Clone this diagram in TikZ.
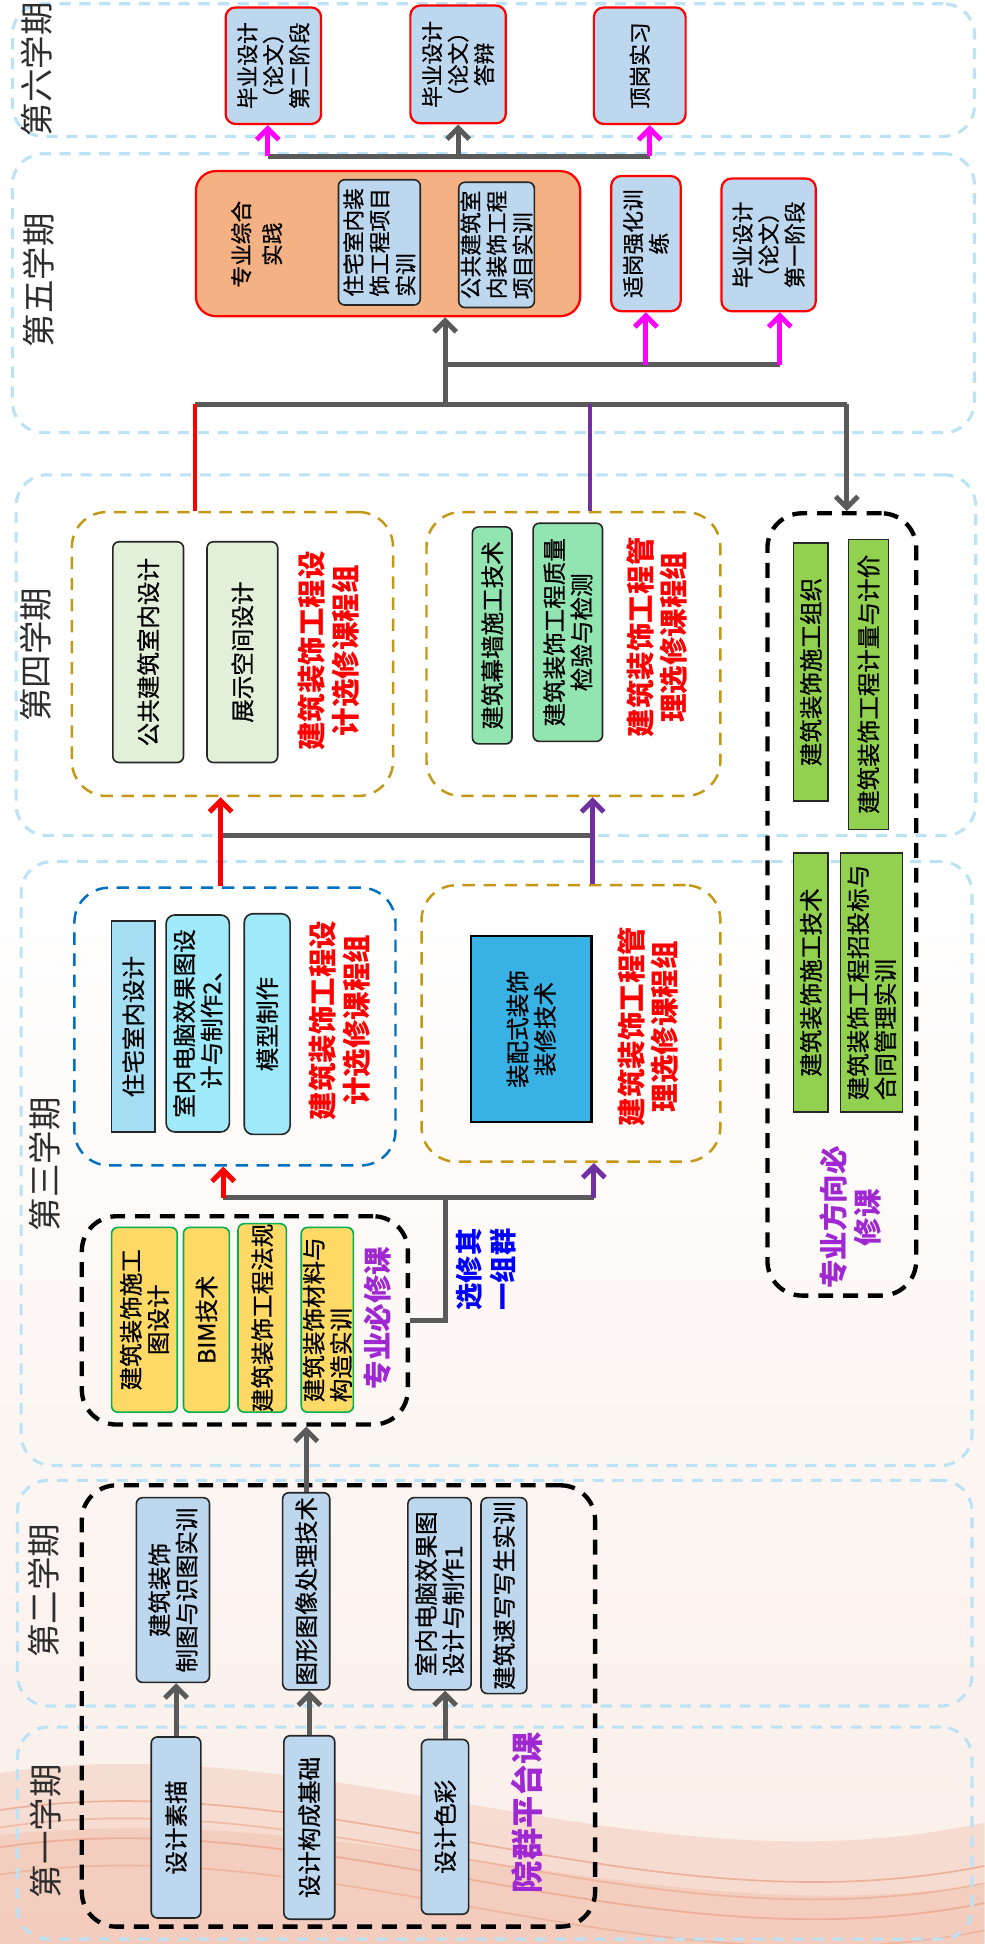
\documentclass[tikz,border=0pt]{standalone}
\usepackage{fontspec}
\setmainfont{Noto Sans CJK SC}
\newfontfamily\boxfont{Noto Sans CJK SC}[RawFeature={embolden=0.8}]
\usetikzlibrary{arrows.meta, calc}

\definecolor{bandblue}{RGB}{188,226,246}
\definecolor{boxblue}{RGB}{189,215,238}
\definecolor{orangefill}{RGB}{244,177,131}
\definecolor{lightgreen}{RGB}{226,240,217}
\definecolor{mintgreen}{RGB}{146,228,176}
\definecolor{grassgreen}{RGB}{146,208,80}
\definecolor{cyanfill}{RGB}{158,234,250}
\definecolor{cyangray}{RGB}{165,222,242}
\definecolor{deepsky}{RGB}{56,178,228}
\definecolor{yellowfill}{RGB}{255,217,102}
\definecolor{borderg}{RGB}{0,176,80}
\definecolor{gold}{RGB}{196,152,20}
\definecolor{dblue}{RGB}{0,112,192}
\definecolor{arrgray}{RGB}{90,90,90}
\definecolor{purp}{RGB}{112,48,160}
\definecolor{labpurp}{RGB}{160,40,210}
\definecolor{labblue}{RGB}{0,0,255}
\definecolor{pinkarr}{RGB}{255,0,255}
\definecolor{semtext}{RGB}{45,45,45}
\definecolor{bgpink}{RGB}{250,238,232}
\definecolor{swoosh}{RGB}{232,150,120}

\begin{document}
\begin{tikzpicture}[
  x=1pt, y=-1pt,
  band/.style={draw=bandblue, line width=2.5pt, dash pattern=on 9pt off 7pt, rounded corners=25pt},
  goldgrp/.style={draw=gold, line width=2pt, dash pattern=on 10pt off 7pt, rounded corners=28pt},
  bluegrp/.style={draw=dblue, line width=2pt, dash pattern=on 10pt off 7pt, rounded corners=28pt},
  blkgrp/.style={draw=black, line width=3.5pt, dash pattern=on 12pt off 8pt, rounded corners=28pt},
  crs/.style={rotate=90, draw=black!85, line width=1.3pt, rounded corners=5pt, align=center, inner sep=0pt, font=\boxfont\fontsize{19}{22}\selectfont},
  topcrs/.style={crs, draw=red, line width=1.8pt, fill=boxblue, rounded corners=8pt, font=\boxfont\fontsize{17.5}{21}\selectfont},
  semlab/.style={rotate=90, text=semtext, inner sep=0pt, font=\fontsize{27}{30}\selectfont},
  grplab/.style={rotate=90, text=red, align=center, inner sep=0pt, font=\bfseries\fontsize{23}{27}\selectfont},
  gline/.style={draw=arrgray, line width=4pt},
  garr/.style={gline, -{Straight Barb[length=9pt,width=18pt]}},
  marr/.style={draw=pinkarr, line width=4pt, -{Straight Barb[length=9pt,width=18pt]}},
  rarr/.style={draw=red, line width=4pt, -{Straight Barb[length=9pt,width=18pt]}},
  parr/.style={draw=purp, line width=4pt, -{Straight Barb[length=9pt,width=18pt]}},
  rline/.style={draw=red, line width=3pt},
  pline/.style={draw=purp, line width=3pt}
]
\useasboundingbox (0,0) rectangle (794,1568);

% background
\fill[white] (0,0) rectangle (794,1568);
\shade[top color=white, bottom color=bgpink] (0,700) rectangle (794,1568);
\fill[swoosh, opacity=0.22] (0,1430) .. controls (260,1390) and (520,1530) .. (794,1470) -- (794,1568) -- (0,1568) -- cycle;
\fill[swoosh, opacity=0.2] (0,1480) .. controls (300,1450) and (520,1560) .. (794,1520) -- (794,1568) -- (0,1568) -- cycle;
\foreach \dy/\op in {0/0.6, 14/0.45, 30/0.55, 52/0.4}
  \draw[swoosh, line width=1.4pt, opacity=\op] (0,1460+\dy) .. controls (260,1420+\dy) and (520,1560+\dy) .. (794,1505+\dy);

% semester bands
\node[band, minimum width=776, minimum height=107] (s6) at (398,56.5) {};
\node[band, minimum width=776, minimum height=225] (s5) at (398,236.5) {};
\node[band, minimum width=774, minimum height=291] (s4) at (400,528.5) {};
\node[band, minimum width=767, minimum height=487] (s3) at (400.5,938.5) {};
\node[band, minimum width=770, minimum height=182] (s2) at (399,1285) {};
\node[band, minimum width=770, minimum height=171] (s1) at (399,1478.5) {};

\node[semlab] (t6) at (30,56) {第六学期};
\node[semlab] (t5) at (31,226) {第五学期};
\node[semlab] (t4) at (29,528) {第四学期};
\node[semlab] (t3) at (36,939) {第三学期};
\node[semlab] (t2) at (35,1283) {第二学期};
\node[semlab] (t1) at (37,1477) {第一学期};

% group frames
\node[goldgrp, minimum width=259, minimum height=229] (g4d) at (187.5,527.5) {};
\node[goldgrp, minimum width=237, minimum height=229] (g4m) at (462.5,527.5) {};
\node[bluegrp, minimum width=259, minimum height=224] (g3d) at (189.5,828) {};
\node[goldgrp, minimum width=241, minimum height=223] (g3m) at (460.5,825.5) {};
\node[blkgrp, minimum width=120, minimum height=631] (zyfx) at (679,729.5) {};
\node[blkgrp, minimum width=263, minimum height=168] (zybx) at (197.5,1065) {};
\node[blkgrp, minimum width=414, minimum height=356] (yqpt) at (273,1376) {};

% sixth semester
\node[topcrs, minimum width=94, minimum height=77] (bys2) at (220.5,53) {毕业设计\\（论文）\\第二阶段};
\node[topcrs, minimum width=95, minimum height=77] (bydb) at (369.5,52) {毕业设计\\（论文）\\答辩};
\node[topcrs, minimum width=94, minimum height=74] (dgsx) at (516,53) {顶岗实习};

% fifth semester
\node[crs, draw=red, line width=1.8pt, fill=orangefill, rounded corners=16pt, minimum width=117, minimum height=310] (zhsj) at (313,196.5) {};
\node[rotate=90, align=center, inner sep=0pt, font=\boxfont\fontsize{17.5}{25}\selectfont] (zhsjt) at (207,197) {专业综合\\实践};
\node[crs, fill=boxblue, align=left, minimum width=101, minimum height=66, font=\boxfont\fontsize{17.5}{21}\selectfont] (zzsx) at (306,195.5) {住宅室内装\\饰工程项目\\实训};
\node[crs, fill=boxblue, align=left, minimum width=101, minimum height=61, font=\boxfont\fontsize{17.5}{21}\selectfont] (ggsx) at (400.5,197.5) {公共建筑室\\内装饰工程\\项目实训};
\node[topcrs, minimum width=109, minimum height=56] (sgqh) at (521,196.5) {适岗强化训\\练};
\node[topcrs, minimum width=107, minimum height=76] (bys1) at (620,197.5) {毕业设计\\（论文）\\第一阶段};

% fourth semester
\node[crs, fill=lightgreen, minimum width=178, minimum height=57] (ggsn) at (119.5,526) {公共建筑室内设计};
\node[crs, fill=lightgreen, minimum width=178, minimum height=57] (zskj) at (195.5,526) {展示空间设计};
\node[grplab] (l4d) at (265,525) {建筑装饰工程设\\计选修课程组};
\node[crs, fill=mintgreen, minimum width=175, minimum height=32] (mqsg) at (397,512.5) {建筑幕墙施工技术};
\node[crs, fill=mintgreen, minimum width=176, minimum height=56] (zljc) at (458,510) {建筑装饰工程质量\\检验与检测};
\node[grplab] (l4m) at (530,514) {建筑装饰工程管\\理选修课程组};

% direction compulsory courses
\node[crs, fill=grassgreen, rounded corners=0pt, minimum width=208, minimum height=28] (sgzz) at (654,542) {建筑装饰施工组织};
\node[crs, fill=grassgreen, rounded corners=0pt, minimum width=234, minimum height=32] (jljj) at (700.5,552) {建筑装饰工程计量与计价};
\node[crs, fill=grassgreen, rounded corners=0pt, minimum width=209, minimum height=28] (sgjs) at (654,792.5) {建筑装饰施工技术};
\node[crs, fill=grassgreen, rounded corners=0pt, align=left, minimum width=209, minimum height=50] (ztb) at (703,792.5) {建筑装饰工程招投标与\\合同管理实训};
\node[rotate=90, text=labpurp, align=center, inner sep=0pt, font=\bfseries\fontsize{23}{27}\selectfont] (l5) at (686,982) {专业方向必\\修课};

% third semester
\node[crs, fill=cyangray, rounded corners=0pt, minimum width=170, minimum height=35] (zzsn) at (107.5,828) {住宅室内设计};
\node[crs, fill=cyanfill, rounded corners=7pt, minimum width=175, minimum height=51] (sndn2) at (159.5,825.5) {室内电脑效果图设\\计与制作2、};
\node[crs, fill=cyanfill, rounded corners=7pt, minimum width=178, minimum height=37] (mxzz) at (215.5,826) {模型制作};
\node[grplab] (l3d) at (274,823) {建筑装饰工程设\\计选修课程组};
\node[crs, fill=deepsky, rounded corners=0pt, line width=2pt, draw=black, minimum width=150, minimum height=97] (zpsz) at (428.5,830) {装配式装饰\\装修技术};
\node[grplab] (l3m) at (523,828) {建筑装饰工程管\\理选修课程组};

% professional compulsory courses
\node[crs, fill=yellowfill, draw=borderg, minimum width=149, minimum height=53] (sgtsj) at (116.5,1064.5) {建筑装饰施工\\图设计};
\node[crs, fill=yellowfill, draw=borderg, minimum width=149, minimum height=37] (bim) at (166.5,1064.5) {BIM技术};
\node[crs, fill=yellowfill, draw=borderg, minimum width=148, minimum height=39] (gcfg) at (211.5,1063) {建筑装饰工程法规};
\node[crs, fill=yellowfill, draw=borderg, align=left, minimum width=149, minimum height=42] (clgz) at (264,1064.5) {建筑装饰材料与\\构造实训};
\node[rotate=90, text=labpurp, inner sep=0pt, font=\bfseries\fontsize{23}{27}\selectfont] (l6) at (305,1063) {专业必修课};
\node[rotate=90, text=labblue, align=center, inner sep=0pt, font=\bfseries\fontsize{22}{28}\selectfont] (xxqy) at (392,1024) {选修其\\一组群};

% first and second semester
\node[crs, fill=boxblue, minimum width=149, minimum height=59] (zhst) at (139.5,1282.5) {建筑装饰\\制图与识图实训};
\node[crs, fill=boxblue, minimum width=159, minimum height=38] (txcl) at (247,1283.5) {图形图像处理技术};
\node[crs, fill=boxblue, align=left, minimum width=155, minimum height=51] (sndn1) at (354.5,1285.5) {室内电脑效果图\\设计与制作1};
\node[crs, fill=boxblue, minimum width=158, minimum height=37] (jzsx) at (406.5,1287) {建筑速写写生实训};
\node[crs, fill=boxblue, minimum width=146, minimum height=40] (sjsm) at (142,1474) {设计素描};
\node[crs, fill=boxblue, minimum width=148, minimum height=41] (sjgc) at (249.5,1474) {设计构成基础};
\node[crs, fill=boxblue, minimum width=141, minimum height=38] (sjsc) at (359,1473.5) {设计色彩};
\node[rotate=90, text=labpurp, inner sep=0pt, font=\bfseries\fontsize{26}{30}\selectfont] (l7) at (425,1462) {院群平台课};

% connectors
\draw[garr] (sjsm.east) -- (sjsm.east |- zhst.west);
\draw[garr] (sjgc.east) -- (sjgc.east |- txcl.west);
\draw[garr] (sjsc.east) -- (sjsc.east |- sndn1.west);
\draw[garr] (txcl.east) -- (txcl.east |- zybx.south);

\coordinate (b3L) at (180,966);
\coordinate (b3J) at (359,966);
\coordinate (b3R) at (479,966);
\draw[gline] (b3L) -- (b3R);
\draw[gline] (zybx.east) -| (b3J);
\draw[rarr] (b3L) -- (b3L |- g3d.south);
\draw[parr] (b3R) -- (b3R |- g3m.south);

\coordinate (b4L) at (178,674);
\coordinate (b4R) at (478,674);
\draw[gline] (b4L) -- (b4R);
\draw[rarr] (b4L |- g3d.north) -- (b4L |- g4d.south);
\draw[parr] (b4R |- g3m.north) -- (b4R |- g4m.south);

\coordinate (bus5L) at (157,326);
\coordinate (bus5M) at (359,326);
\coordinate (bus5P) at (476,326);
\coordinate (bus5R) at (683,326);
\draw[gline] (bus5L) -- (bus5R);
\draw[rline] (bus5L) -- (bus5L |- g4d.north);
\draw[pline] (bus5P) -- (bus5P |- g4m.north);
\draw[garr] (bus5R) -- (bus5R |- zyfx.north);
\draw[garr] (bus5M) -- (bus5M |- zhsj.west);

\coordinate (up5L) at (359,294);
\coordinate (up5R) at (629,294);
\draw[gline] (up5L) -- (up5R);
\draw[marr] (sgqh.west |- up5L) -- (sgqh.west);
\draw[marr] (up5R) -- (up5R |- bys1.west);

\coordinate (bus6L) at (216,126);
\coordinate (bus6R) at (524,126);
\draw[gline] (bus6L) -- (bus6R);
\draw[marr] (bus6L) -- (bus6L |- bys2.west);
\draw[garr] (bydb.west |- bus6L) -- (bydb.west);
\draw[marr] (bus6R) -- (bus6R |- dgsx.west);

\end{tikzpicture}
\end{document}
